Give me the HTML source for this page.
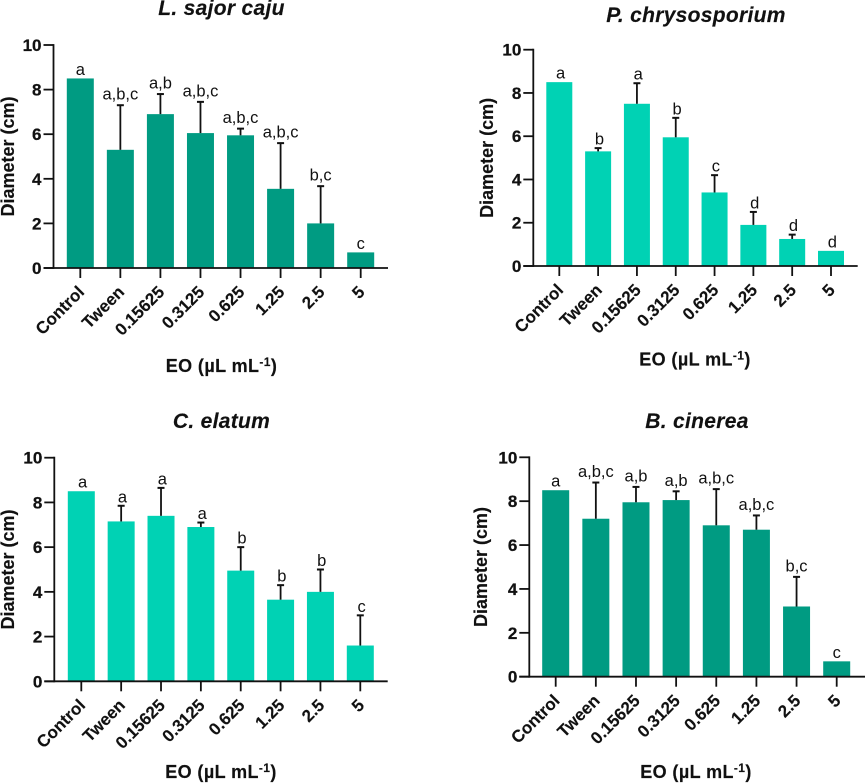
<!DOCTYPE html>
<html lang="en">
<head>
<meta charset="utf-8">
<title>Diameter by EO concentration</title>
<style>
html,body{margin:0;padding:0;background:#fff;}
svg{display:block;}
text{font-family:"Liberation Sans",Arial,sans-serif;fill:#111;}
.tick{font-weight:bold;font-size:17px;stroke:#111;stroke-width:.25px;}
.cat{font-weight:bold;font-size:17px;stroke:#111;stroke-width:.15px;}
.axt{font-weight:bold;font-size:18px;stroke:#111;stroke-width:.15px;}
.xt{letter-spacing:.4px;}
.ttl{font-weight:bold;font-style:italic;font-size:21px;letter-spacing:.3px;stroke:#111;stroke-width:.15px;}
.sig{font-size:16.5px;}
</style>
</head>
<body>
<svg id="figure" xmlns="http://www.w3.org/2000/svg" width="865" height="783" viewBox="0 0 865 783"></svg>
<script>
const categories = ["Control", "Tween", "0.15625", "0.3125", "0.625", "1.25", "2.5", "5"];
const yTickValues = [0, 2, 4, 6, 8, 10];

const sajorMeans = [8.5, 5.3, 6.9, 6.05, 5.95, 3.55, 2.0, 0.7];
const sajorErrors = [0, 2.0, 0.9, 1.4, 0.3, 2.05, 1.67, 0];
const sajorLetters = ["a", "a,b,c", "a,b", "a,b,c", "a,b,c", "a,b,c", "b,c", "c"];

const chrysoMeans = [8.5, 5.3, 7.5, 5.95, 3.4, 1.9, 1.25, 0.7];
const chrysoErrors = [0, 0.15, 0.95, 0.9, 0.8, 0.6, 0.2, 0];
const chrysoLetters = ["a", "b", "a", "b", "c", "d", "d", "d"];

const elatumMeans = [8.5, 7.15, 7.4, 6.9, 4.95, 3.65, 4.0, 1.6];
const elatumErrors = [0, 0.7, 1.25, 0.2, 1.05, 0.65, 1.0, 1.35];
const elatumLetters = ["a", "a", "a", "a", "b", "b", "b", "c"];

const cinereaMeans = [8.5, 7.2, 7.95, 8.05, 6.9, 6.7, 3.2, 0.7];
const cinereaErrors = [0, 1.65, 0.7, 0.4, 1.65, 0.65, 1.35, 0];
const cinereaLetters = ["a", "a,b,c", "a,b", "a,b", "a,b,c", "a,b,c", "b,c", "c"];

const svg = document.getElementById('figure');
const NS = 'http://www.w3.org/2000/svg';

function make(tag, parent, props, content) {
  const el = document.createElementNS(NS, tag);
  for (const k in props) el.setAttribute(k, props[k]);
  if (content !== undefined) el.textContent = content;
  parent.appendChild(el);
  return el;
}

function drawPanel(p) {
  const scaleY = v => p.y0 - (p.y0 - p.y10) * v / 10;
  const scaleX = i => p.x0 + (p.xN - p.x0) * i / (categories.length - 1);

  const g = make('g', svg, {});
  
  

  const title = make('text', g, {x: p.titleX, y: p.titleY, 'text-anchor': 'middle', class: 'ttl'}, p.title);
  
  

  categories.forEach((c, i) => {
    const x = scaleX(i);
    const top = scaleY(p.means[i]);
    const bar = make('rect', g, {x: x - p.barW / 2, y: top, width: p.barW, height: p.y0 - top, fill: p.color});
    
    

    const gap = p.letters[i].indexOf(',') >= 0 ? 5.5 : 3.5;
    let labelBase = top - gap;
    if (p.errors[i] > 0) {
      const et = scaleY(p.means[i] + p.errors[i]);
      const stem = make('line', g, {x1: x, x2: x, y1: top, y2: et, stroke: '#111', 'stroke-width': 1.8});
      
      
      const cap = make('line', g, {x1: x - 3.5, x2: x + 3.5, y1: et, y2: et, stroke: '#111', 'stroke-width': 2});
      
      
      labelBase = et - gap;
    }
    const sig = make('text', g, {x: x + p.sigDx, y: labelBase, 'text-anchor': 'middle', class: 'sig'}, p.letters[i]);
    
    

    const tick = make('line', g, {x1: x, x2: x, y1: p.y0, y2: p.y0 + 10, stroke: '#111', 'stroke-width': 1.8});
    
    

    const lx = x + 5;
    const ly = p.y0 + 25;
    const cat = make('text', g, {x: lx, y: ly, 'text-anchor': 'end', class: 'cat', transform: 'rotate(-45 ' + lx + ' ' + ly + ')'}, c);
    
    
  });

  yTickValues.forEach(v => {
    const y = scaleY(v);
    const t = make('line', g, {x1: p.axisX - 10, x2: p.axisX, y1: y, y2: y, stroke: '#111', 'stroke-width': 1.8});
    
    
    const lab = make('text', g, {x: p.axisX - 12, y: y + 6, 'text-anchor': 'end', class: 'tick'}, String(v));
    
    
  });

  const yAxis = make('line', g, {x1: p.axisX, x2: p.axisX, y1: p.y10 - 0.9, y2: p.y0 + 0.9, stroke: '#111', 'stroke-width': 1.8});
  
  
  const xAxis = make('line', g, {x1: p.axisX - 10, x2: p.axisEnd, y1: p.y0, y2: p.y0, stroke: '#111', 'stroke-width': 1.8});
  
  

  const yMid = (p.y0 + p.y10) / 2;
  const yTitle = make('text', g, {x: p.yTitleX, y: yMid, 'text-anchor': 'middle', class: 'axt', transform: 'rotate(-90 ' + p.yTitleX + ' ' + yMid + ')'}, 'Diameter (cm)');
  
  

  const xTitle = make('text', g, {x: p.xTitleX, y: p.xTitleY, 'text-anchor': 'middle', class: 'axt xt'});
  
  
  make('tspan', xTitle, {}, 'EO (\u00B5L mL');
  make('tspan', xTitle, {dy: -6, 'font-size': '12px'}, '-1');
  make('tspan', xTitle, {dy: 6}, ')');
}

drawPanel({slug: 'sajor', title: 'L. sajor caju', color: '#009B82', means: sajorMeans, errors: sajorErrors, letters: sajorLetters,
  axisX: 53.5, axisEnd: 388, y0: 268, y10: 45, x0: 80.3, xN: 360.7, barW: 27, sigDx: 0,
  titleX: 221.5, titleY: 15, yTitleX: 14, xTitleX: 221.5, xTitleY: 372});
drawPanel({slug: 'chryso', title: 'P. chrysosporium', color: '#00D2B4', means: chrysoMeans, errors: chrysoErrors, letters: chrysoLetters,
  axisX: 533.3, axisEnd: 857.7, y0: 266, y10: 49.7, x0: 559.3, xN: 831, barW: 26, sigDx: 1.3,
  titleX: 696, titleY: 22, yTitleX: 493, xTitleX: 695, xTitleY: 365.5});
drawPanel({slug: 'elatum', title: 'C. elatum', color: '#00D2B4', means: elatumMeans, errors: elatumErrors, letters: elatumLetters,
  axisX: 54.3, axisEnd: 387.7, y0: 681.3, y10: 457.7, x0: 81.3, xN: 360.3, barW: 27, sigDx: 1.3,
  titleX: 221.5, titleY: 428, yTitleX: 14, xTitleX: 221, xTitleY: 778});
drawPanel({slug: 'cinerea', title: 'B. cinerea', color: '#009B82', means: cinereaMeans, errors: cinereaErrors, letters: cinereaLetters,
  axisX: 529.3, axisEnd: 865, y0: 676.7, y10: 457.3, x0: 555.7, xN: 836.7, barW: 27, sigDx: 0,
  titleX: 697, titleY: 428, yTitleX: 487, xTitleX: 696, xTitleY: 778});
</script>
</body>
</html>
